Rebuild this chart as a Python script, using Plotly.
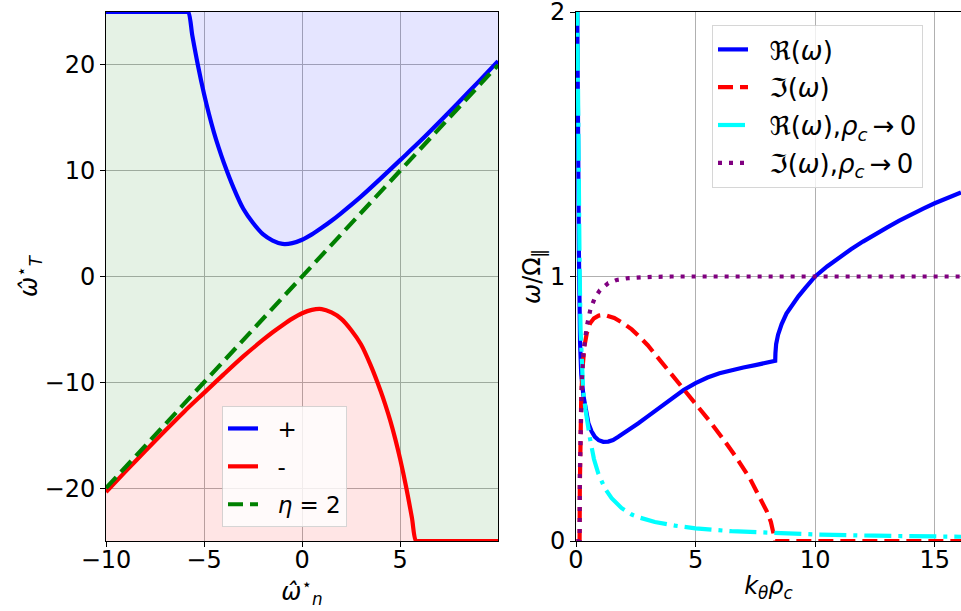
import plotly.graph_objects as go

# ---------------- Left panel data ----------------
wn_plus = [-10.0, -6.0, -5.81, -5.6, -5.3, -5.0, -4.75, -4.5, -4.25, -4.0, -3.5, -3.0, -2.5, -2.0,
           -1.5, -1.0, -0.5, 0.0, 0.5, 1.0, 1.5, 2.0, 3.0, 4.0, 5.0, 6.0, 7.0, 8.0, 9.0, 9.99]
wt_plus = [25, 25, 25, 22.8, 19.85, 17.25, 15.35, 13.65, 12.15, 10.8, 8.4, 6.4, 5.05, 4.0,
           3.4, 3.08, 3.15, 3.47, 3.98, 4.6, 5.27, 6.0, 7.55, 9.25, 11.0, 12.75, 14.6, 16.5, 18.42, 20.36]
wn_minus = [-10.0, -9.0, -8.0, -7.0, -6.0, -5.0, -4.0, -3.0, -2.0, -1.5, -1.0, -0.5, 0.0, 0.5,
            1.0, 1.5, 2.0, 2.5, 3.0, 3.5, 4.0, 4.25, 4.5, 4.75, 5.0, 5.3, 5.6, 5.81, 6.0, 9.99]
wt_minus = [-20.38, -18.42, -16.5, -14.6, -12.75, -11.0, -9.25, -7.55, -6.0, -5.27, -4.6, -3.98, -3.47, -3.15,
            -3.08, -3.4, -4.0, -5.05, -6.4, -8.4, -10.8, -12.15, -13.65, -15.35, -17.25, -19.85, -22.8, -25, -25, -25]
wn_eta = [-10.0, 9.99]
wt_eta = [-20.0, 19.98]
left_xlim = [-10.0, 9.99]
left_ylim = [-25, 25]
left_xticks = [-10, -5, 0, 5]
left_xticklabels = ["\u221210", "\u22125", "0", "5"]
left_yticks = [-20, -10, 0, 10, 20]
left_yticklabels = ["\u221220", "\u221210", "0", "10", "20"]

# ---------------- Right panel data ----------------
k_re = [0.05, 0.08, 0.12, 0.17, 0.22, 0.31, 0.4, 0.52, 0.65, 0.79, 0.95, 1.14, 1.35, 1.55, 1.77, 2.2,
        2.61, 3.0, 3.5, 4.0, 4.5, 5.0, 5.5, 6.0, 6.5, 7.0, 7.5, 8.0, 8.33, 8.34, 8.37, 8.45, 8.6, 8.8,
        9.0, 9.3, 9.6, 10.0, 10.5, 11.0, 11.5, 12.0, 12.5, 13.0, 13.5, 14.0, 14.5, 15.0, 15.5, 16.1]
re_w = [2.05, 1.5, 1.1, 0.75, 0.63, 0.55, 0.5, 0.445, 0.415, 0.394, 0.381, 0.375, 0.376, 0.382, 0.394, 0.418,
        0.445, 0.471, 0.505, 0.539, 0.571, 0.597, 0.618, 0.634, 0.646, 0.656, 0.665, 0.674, 0.681, 0.71, 0.745, 0.78,
        0.82, 0.86, 0.888, 0.925, 0.958, 1.0, 1.038, 1.072, 1.103, 1.132, 1.16, 1.185, 1.21, 1.234, 1.256, 1.277,
        1.297, 1.318]

k_im = [0.02, 0.15, 0.16, 0.18, 0.22, 0.28, 0.35, 0.45, 0.59, 0.75, 0.95, 1.2, 1.6, 2.0, 2.33, 2.68,
        3.0, 3.5, 4.0, 4.5, 5.0, 5.6, 6.16, 6.7, 7.28, 7.7, 7.98, 8.15, 8.26, 8.33, 16.1]
im_w = [0.0, 0.0, 0.2, 0.4, 0.55, 0.66, 0.735, 0.785, 0.823, 0.842, 0.852, 0.855, 0.843, 0.822, 0.8, 0.77,
        0.74, 0.685, 0.63, 0.574, 0.52, 0.452, 0.385, 0.316, 0.235, 0.165, 0.112, 0.072, 0.035, 0.0, 0.0]

k_re0 = [0.05, 0.08, 0.11, 0.15, 0.19, 0.24, 0.3, 0.4, 0.5, 0.59, 0.75, 0.93, 1.2, 1.49, 1.9, 2.33,
         2.68, 3.3, 4.14, 5.0, 6.5, 8.26, 10.2, 12.5, 14.5, 16.1]
re0_w = [2.05, 1.6, 1.3, 1.04, 0.8, 0.66, 0.57, 0.495, 0.43, 0.385, 0.31, 0.256, 0.2, 0.162, 0.125, 0.1,
         0.088, 0.072, 0.058, 0.048, 0.037, 0.03, 0.024, 0.02, 0.017, 0.016]

k_im0 = [0.02, 0.15, 0.16, 0.2, 0.25, 0.31, 0.38, 0.45, 0.6, 0.79, 1.0, 1.35, 1.7, 2.2, 3.0, 4.0, 16.1]
im0_w = [0.0, 0.0, 0.25, 0.5, 0.62, 0.71, 0.77, 0.81, 0.875, 0.92, 0.948, 0.975, 0.987, 0.994, 0.998, 1.0, 1.0]

right_xlim = [0, 16.1]
right_ylim = [0, 2]
right_xticks = [0, 5, 10, 15]
right_yticks = [0, 1, 2]

FONT = "DejaVu Sans"
LW = 4.2
NB = "\u00a0\u00a0"

fig = go.Figure()

# ---- left panel fills ----
fig.add_trace(go.Scatter(x=left_xlim, y=[left_ylim[1]] * 2, mode="lines", line=dict(width=0),
                         showlegend=False, hoverinfo="skip"))
fig.add_trace(go.Scatter(x=wn_plus, y=wt_plus, mode="lines", line=dict(width=0, shape="spline", smoothing=0.8),
                         fill="tonexty", fillcolor="rgba(0,0,255,0.1)", showlegend=False, hoverinfo="skip"))
fig.add_trace(go.Scatter(x=wn_minus, y=wt_minus, mode="lines", line=dict(width=0, shape="spline", smoothing=0.8),
                         fill="tonexty", fillcolor="rgba(0,128,0,0.1)", showlegend=False, hoverinfo="skip"))
fig.add_trace(go.Scatter(x=left_xlim, y=[left_ylim[0]] * 2, mode="lines", line=dict(width=0),
                         fill="tonexty", fillcolor="rgba(255,0,0,0.1)", showlegend=False, hoverinfo="skip"))

# ---- left panel lines ----
fig.add_trace(go.Scatter(x=wn_plus, y=wt_plus, mode="lines", name=NB + "+", legendgroup="a",
                         line=dict(color="blue", width=LW, shape="spline", smoothing=0.8)))
fig.add_trace(go.Scatter(x=wn_minus, y=wt_minus, mode="lines", name=NB + "-", legendgroup="b",
                         line=dict(color="red", width=LW, shape="spline", smoothing=0.8)))
fig.add_trace(go.Scatter(x=wn_eta, y=wt_eta, mode="lines", name=NB + "<i>η</i> = 2", legendgroup="c",
                         line=dict(color="green", width=LW, dash="15px,7px")))

# ---- right panel lines ----
fig.add_trace(go.Scatter(x=k_re, y=re_w, mode="lines", name=NB + "ℜ(<i>ω</i>)", xaxis="x2", yaxis="y2",
                         legend="legend2", legendgroup="d", line=dict(color="blue", width=LW)))
fig.add_trace(go.Scatter(x=k_im, y=im_w, mode="lines", name=NB + "ℑ(<i>ω</i>)", xaxis="x2", yaxis="y2",
                         legend="legend2", legendgroup="e", line=dict(color="red", width=LW, dash="15px,7px")))
fig.add_trace(go.Scatter(x=k_re0, y=re0_w,
                         name=NB + "ℜ(<i>ω</i>),<i>ρ</i><sub><i>c</i></sub>\u2009→\u20090",
                         mode="lines", xaxis="x2", yaxis="y2", legend="legend2", legendgroup="f",
                         line=dict(color="cyan", width=LW, dash="27px,7px,4px,7px")))
fig.add_trace(go.Scatter(x=k_im0, y=im0_w,
                         name=NB + "ℑ(<i>ω</i>),<i>ρ</i><sub><i>c</i></sub>\u2009→\u20090",
                         mode="lines", xaxis="x2", yaxis="y2", legend="legend2", legendgroup="g",
                         line=dict(color="purple", width=LW, dash="4px,7px")))

axis_common = dict(showline=True, mirror=True, linecolor="black", linewidth=1,
                   ticks="outside", ticklen=5, tickcolor="black", tickwidth=1,
                   showgrid=True, gridcolor="#b0b0b0", gridwidth=0.8, zeroline=False,
                   ticklabeloverflow="allow",
                   tickfont=dict(family=FONT, size=24, color="black"))

W, H = 961, 611
legend_common = dict(xanchor="left", yanchor="top", traceorder="grouped",
                     bgcolor="rgba(255,255,255,0.8)", bordercolor="rgba(204,204,204,0.8)", borderwidth=1)
fig.update_layout(
    width=W, height=H, template="none",
    paper_bgcolor="white", plot_bgcolor="white",
    margin=dict(l=0, r=0, t=12, b=70),
    font=dict(family=FONT, color="black"),
    xaxis=dict(domain=[106 / W, 498 / W], range=left_xlim, anchor="y",
               tickvals=left_xticks, ticktext=left_xticklabels, ticklabelstandoff=-8,
               title=dict(text="<i>ω̂</i><sup>⋆</sup><sub><i>n</i></sub>",
                          font=dict(family=FONT, size=24), standoff=4),
               **axis_common),
    yaxis=dict(domain=[0, 1], range=left_ylim, anchor="x",
               tickvals=left_yticks, ticktext=left_yticklabels,
               title=dict(text="<i>ω̂</i><sup>⋆</sup><sub><i>T</i></sub>",
                          font=dict(family=FONT, size=24), standoff=0),
               **axis_common),
    xaxis2=dict(domain=[576 / W, 1.0], range=right_xlim, anchor="y2",
                tickvals=right_xticks, ticklabelstandoff=-8,
                title=dict(text="<i>k</i><sub><i>θ</i></sub><i>ρ</i><sub><i>c</i></sub>",
                           font=dict(family=FONT, size=24), standoff=4),
                **axis_common),
    yaxis2=dict(domain=[0, 1], range=right_ylim, anchor="x2",
                tickvals=right_yticks,
                title=dict(text="<i>ω</i>/Ω<sub>‖</sub>",
                           font=dict(family=FONT, size=24), standoff=2),
                **axis_common),
    legend=dict(x=222 / W, y=(541 - 406) / 529, tracegroupgap=5,
                font=dict(family=FONT, size=23, color="black"), **legend_common),
    legend2=dict(x=712 / W, y=(541 - 25) / 529, tracegroupgap=1,
                 font=dict(family=FONT, size=26, color="black"), **legend_common),
)

fig.write_html("out.html")
